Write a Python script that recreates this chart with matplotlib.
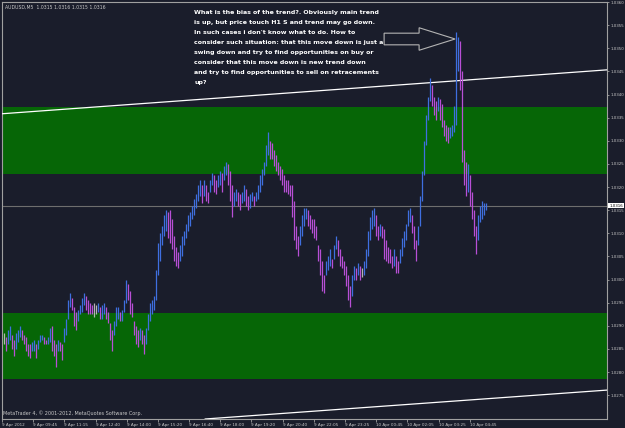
import numpy as np
import matplotlib
matplotlib.use("Agg")
import matplotlib.pyplot as plt
import matplotlib.patches as mpatches
import matplotlib.transforms as mtransforms

# prices are stored as pips above 1.0000 (AUDUSD M5 bars)
BASE = 1.0
PIP = 0.0001

hi_pips = [288.5, 287.5, 289, 290, 288, 287, 288.5, 289, 290, 289,
           288, 287.5, 286, 286, 286.5, 287, 286, 287, 288, 288,
           287.5, 287, 287.5, 289.5, 290, 287, 286, 287, 286.5, 286,
           289.5, 291.5, 295.5, 297, 296, 294, 293, 293.5, 294.5, 296,
           297, 296.5, 295.5, 295, 294.5, 295, 294.5, 295, 294, 294.5,
           295, 294, 293, 290.5, 289, 291, 294, 294, 293, 293.5,
           295.5, 300, 299, 297.5, 295, 291, 290, 289, 289.5, 289,
           288, 289.5, 292.5, 295, 295.5, 296.5, 302, 308, 310, 311.5,
           314, 315, 314.5, 315, 313, 309.5, 307, 306, 307.5, 309.5,
           310.5, 312, 314, 314.5, 316, 317.5, 318.5, 320.5, 321.5, 320.5,
           321.5, 320.5, 319, 321.5, 323, 322.5, 321.5, 322.5, 323.5, 323,
           324.5, 325.5, 325, 323.5, 320.5, 319, 319.5, 319, 318.5, 319,
           320.5, 319.5, 318, 318.5, 319, 318, 319, 320.5, 322.5, 324,
           325.5, 329, 332, 330, 329.5, 328, 327, 325.5, 324.5, 324,
           322.5, 321.5, 321.5, 320.5, 320.5, 317, 311.5, 309.5, 311.5, 314,
           315.5, 315.5, 315, 314, 313, 313, 311.5, 307.5, 306.5, 304,
           301, 304, 305, 306.5, 304.5, 307.5, 309.5, 308.5, 306.5, 305,
           304, 303, 301, 298.5, 301, 303, 302.5, 303.5, 303, 302.5,
           304, 306.5, 310.5, 313.5, 315, 315.5, 314, 311.5, 312, 311.5,
           311, 308.5, 307, 306.5, 305, 306.5, 305, 304, 306.5, 309,
           310.5, 312, 315, 315.5, 314, 311.5, 308.5, 311.5, 318, 323.5,
           330, 335.5, 339.5, 343.5, 342, 339.5, 338.5, 339.5, 339, 338,
           334.5, 333.5, 333, 333, 333.5, 337.5, 353.5, 352.5, 351.5, 345,
           328, 325.5, 325, 322.5, 319, 315, 311.5, 314, 316, 317,
           316.5, 316.5]

lo_pips = [286, 284.5, 286, 287, 285, 283.5, 285, 286.5, 287.5, 287,
           286, 284.5, 283.5, 283, 284.5, 284.5, 283, 285, 286.5, 287,
           286, 286, 286, 286.5, 284.5, 283.5, 281, 284.5, 284.5, 282.5,
           286.5, 288, 291.5, 294, 293.5, 290, 289, 291, 292.5, 293,
           294.5, 293.5, 292.5, 292.5, 292.5, 292, 292.5, 293, 291.5, 291.5,
           292.5, 291.5, 290.5, 287, 284.5, 288, 290, 291.5, 291, 291,
           293, 295, 295.5, 292.5, 292, 288, 286, 285.5, 287, 286,
           284, 286, 289, 291, 292.5, 293.5, 295.5, 301, 304, 307.5,
           309.5, 310.5, 309, 308, 306.5, 304, 303, 302.5, 304, 305,
           307.5, 309, 310.5, 311.5, 313, 314, 315.5, 317, 318, 316.5,
           318, 317, 316.5, 319, 320.5, 319, 318.5, 320, 320.5, 319,
           321.5, 322.5, 320.5, 317, 313.5, 316, 317, 316, 315, 316.5,
           317, 316, 315, 315.5, 317, 316, 317, 317.5, 319, 320.5,
           322.5, 324.5, 327, 326, 326, 324.5, 323.5, 322.5, 321.5, 320.5,
           319, 319, 318.5, 318, 313.5, 308.5, 306.5, 305, 307.5, 309.5,
           311.5, 313, 311.5, 311, 310, 309, 308.5, 304, 301, 297.5,
           297, 301, 302, 303, 302.5, 304.5, 306.5, 305, 303, 302.5,
           301, 298.5, 295.5, 294, 296.5, 300, 300, 301, 300, 300.5,
           301, 302.5, 305, 308.5, 311, 311.5, 309.5, 308.5, 309.5, 309,
           304.5, 304, 303.5, 303.5, 302.5, 303, 301.5, 301.5, 303.5, 305,
           307, 308.5, 311.5, 312.5, 310, 306.5, 304, 307.5, 311.5, 317,
           322.5, 329, 334.5, 338.5, 337.5, 335.5, 334.5, 336.5, 334.5, 333,
           331, 330, 329.5, 330.5, 331, 332, 333.5, 345, 341, 325.5,
           320.5, 318, 319, 316, 313, 309.5, 305.5, 308.5, 312.5, 313,
           314, 315]

# support / resistance zones (price bottom, price top)
zones = [(1.03229, 1.03373), (1.02784, 1.02928)]
# channel lines: (bar index, price) endpoints
upper_line = [(-1, 1.033584), (301.5, 1.034533)]
lower_line = [(100.5, 1.026984), (301.5, 1.027609)]
last_price = 1.0316
header = "AUDUSD,M5  1.0315 1.0316 1.0315 1.0316"
time_labels = ["9 Apr 2012", "9 Apr 09:45", "9 Apr 11:15", "9 Apr 12:40",
               "9 Apr 14:00", "9 Apr 15:20", "9 Apr 16:40", "9 Apr 18:00",
               "9 Apr 19:20", "9 Apr 20:40", "9 Apr 22:05", "9 Apr 23:25",
               "10 Apr 00:45", "10 Apr 02:05", "10 Apr 03:25", "10 Apr 04:45"]
note = ("What is the bias of the trend?. Obviously main trend\n"
        "is up, but price touch H1 S and trend may go down.\n"
        "In such cases i don't know what to do. How to\n"
        "consider such situation: that this move down is just a\n"
        "swing down and try to find opportunities on buy or\n"
        "consider that this move down is new trend down\n"
        "and try to find opportunities to sell on retracements\n"
        "up?")

BG = "#1a1d2b"
FG = "#c8c8c8"


def main():
    hi = BASE + np.array(hi_pips) * PIP
    lo = BASE + np.array(lo_pips) * PIP
    x = np.arange(len(hi))
    mid = (hi + lo) / 2
    colors = []
    for i in range(len(mid)):
        d = mid[i] - mid[i - 1] if i > 0 else 0
        if abs(d) < 0.00002:
            colors.append("#b4b4b4")
        elif d > 0:
            colors.append("#3f6fe0")
        else:
            colors.append("#b84fd6")

    fig = plt.figure(figsize=(6.25, 4.28), dpi=100, facecolor=BG)
    ax = fig.add_axes([2 / 625, 1 - 419 / 428, 605 / 625, 417 / 428])
    ax.set_facecolor(BG)
    ax.set_xlim(-1, 301.5)
    ax.set_ylim(1.026984, 1.035978)

    for y0, y1 in zones:
        ax.axhspan(y0, y1, color="#066606", lw=0, zorder=1)

    ax.axhline(last_price, color="#6e6e6e", lw=0.8, zorder=2)

    for line in (upper_line, lower_line):
        (x0, p0), (x1, p1) = line
        ax.plot([x0, x1], [p0, p1], color="white", lw=0.9, zorder=3)

    ax.vlines(x, lo, hi, colors=colors, lw=0.9, zorder=4)

    # outlined arrow pointing at the spike
    arr = mpatches.FancyArrow(190, 1.03520, 35.5, 0, width=0.000252,
                              head_width=0.000487, head_length=18,
                              length_includes_head=True, fill=False,
                              ec="#b4b4b4", lw=0.8, zorder=5)
    ax.add_patch(arr)

    ax.text(95, 1.03582, note, color="white", fontsize=4.5,
            fontweight="bold", va="top", ha="left", linespacing=2.25,
            zorder=6)

    ax.text(0.005, 0.994, header, transform=ax.transAxes, color=FG,
            fontsize=3.3, va="top", ha="left")
    ax.text(0.002, 0.006, "MetaTrader 4, \u00a9 2001-2012, MetaQuotes Software Corp.",
            transform=ax.transAxes, color=FG, fontsize=3.5, va="bottom",
            ha="left")

    # right price scale
    ax.yaxis.tick_right()
    yt = np.round(np.arange(1.0275, 1.03601, 0.0005), 4)
    ax.set_yticks(yt)
    ax.set_yticklabels([f"{v:.4f}" for v in yt])
    ax.tick_params(axis="y", colors="#a0a0a0", labelcolor=FG, labelsize=2.9,
                   length=1.5, width=0.6, pad=0.8)
    trans = mtransforms.blended_transform_factory(ax.transAxes, ax.transData)
    ax.text(1.0035, last_price, f"{last_price:.4f}", transform=trans,
            fontsize=2.9, color="black", va="center", ha="left",
            bbox=dict(facecolor="white", edgecolor="none", pad=0.5), zorder=7)

    # time scale
    xt = [-1.15 + 15.6 * k for k in range(len(time_labels))]
    ax.set_xticks(xt)
    ax.set_xticklabels(time_labels)
    ax.tick_params(axis="x", colors="#a0a0a0", labelcolor=FG, labelsize=3.0,
                   length=2, width=0.6, pad=1)
    for lab in ax.get_xticklabels():
        lab.set_ha("left")

    for s in ax.spines.values():
        s.set_color("#a0a0a0")
        s.set_linewidth(0.8)

    fig.savefig("out.png", dpi=100, facecolor=BG)


if __name__ == "__main__":
    main()
